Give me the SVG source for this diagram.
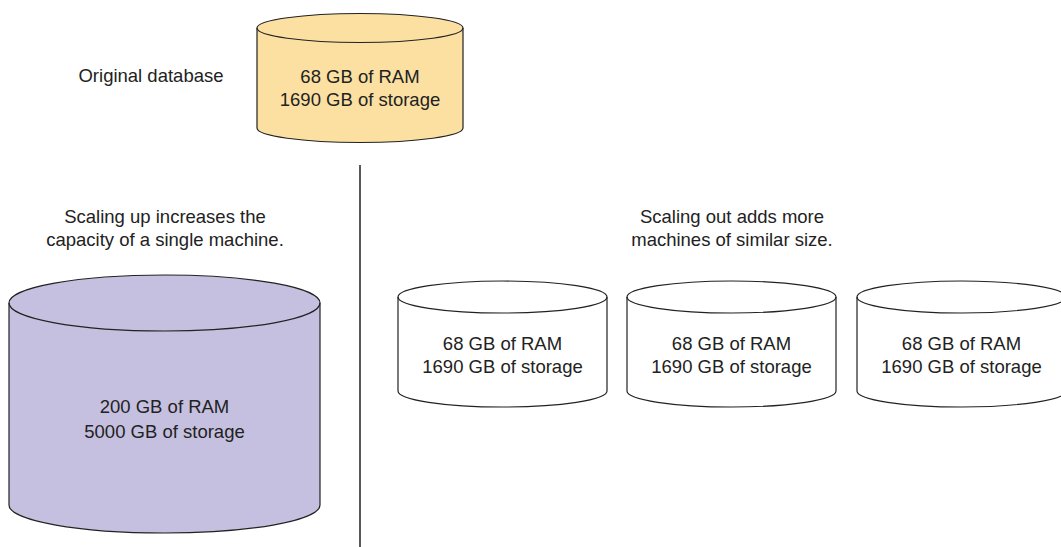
<svg xmlns="http://www.w3.org/2000/svg" width="1061" height="547" viewBox="0 0 1061 547">
<style>
text{font-family:"Liberation Sans",Arial,sans-serif;font-size:18.5px;fill:#222;text-anchor:middle}
.cyl{stroke:#222;stroke-width:1.2}
.orig{fill:#fbe0a2}
.big{fill:#c5c0e0}
.small{fill:#fff}
.edge{fill:none;stroke:#222;stroke-width:1.2}
</style>
<rect width="1061" height="547" fill="#fff"/>
<g id="original">
<path class="cyl orig" d="M257,28 A103,14.5 0 0 1 463,28 L463,128 A103,14.5 0 0 1 257,128 Z"/>
<path class="edge" d="M257,28 A103,14.5 0 0 0 463,28"/>
<text x="360" y="83">68 GB of RAM</text>
<text x="360" y="106">1690 GB of storage</text>
</g>
<g id="label-original"><text x="151" y="82">Original database</text></g>
<g id="label-up"><text x="165" y="223">Scaling up increases the</text><text x="165" y="246">capacity of a single machine.</text></g>
<g id="label-out"><text x="732" y="223">Scaling out adds more</text><text x="732" y="246">machines of similar size.</text></g>
<g id="scaled-up">
<path class="cyl big" d="M9,303 A155.5,28 0 0 1 320,303 L320,505 A155.5,28 0 0 1 9,505 Z"/>
<path class="edge" d="M9,303 A155.5,28 0 0 0 320,303"/>
<text x="164.5" y="413">200 GB of RAM</text>
<text x="164.5" y="438">5000 GB of storage</text>
</g>
<g id="out-1">
<path class="cyl small" d="M398,297 A104.5,16 0 0 1 607,297 L607,391 A104.5,16 0 0 1 398,391 Z"/>
<path class="edge" d="M398,297 A104.5,16 0 0 0 607,297"/>
<text x="502.5" y="350">68 GB of RAM</text>
<text x="502.5" y="373">1690 GB of storage</text>
</g>
<g id="out-2">
<path class="cyl small" d="M627,297 A104.5,16 0 0 1 836,297 L836,391 A104.5,16 0 0 1 627,391 Z"/>
<path class="edge" d="M627,297 A104.5,16 0 0 0 836,297"/>
<text x="731.5" y="350">68 GB of RAM</text>
<text x="731.5" y="373">1690 GB of storage</text>
</g>
<g id="out-3">
<path class="cyl small" d="M857,297 A104.5,16 0 0 1 1066,297 L1066,391 A104.5,16 0 0 1 857,391 Z"/>
<path class="edge" d="M857,297 A104.5,16 0 0 0 1066,297"/>
<text x="961.5" y="350">68 GB of RAM</text>
<text x="961.5" y="373">1690 GB of storage</text>
</g>
<g id="connectors">
<line x1="360" y1="165" x2="360" y2="547" stroke="#222" stroke-width="1.5"/>
</g>
</svg>
